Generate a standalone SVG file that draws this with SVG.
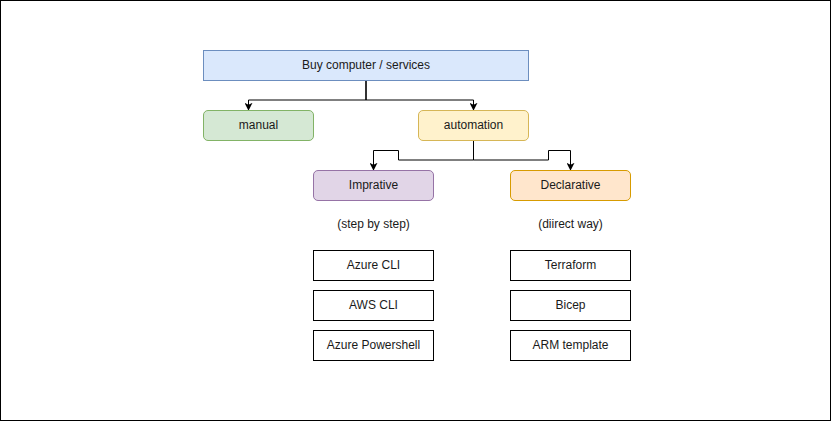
<svg xmlns="http://www.w3.org/2000/svg" width="831" height="421" viewBox="0 0 831 421">
<style>
text{font-family:"Liberation Sans",Arial,sans-serif;font-size:12px;fill:#1a1a1a;text-anchor:middle;dominant-baseline:central}
.c{fill:none;stroke:#000;stroke-width:1}
.w{fill:#fff;stroke:#000;stroke-width:1}
</style>
<defs>
<marker id="ah" viewBox="0 0 10 10" refX="9" refY="5" markerWidth="8" markerHeight="8" markerUnits="userSpaceOnUse" orient="auto">
<path d="M0,0 L10,5 L0,10 L2.5,5 Z" fill="#000"/>
</marker>
</defs>
<rect x="0.5" y="0.5" width="830" height="420" fill="#fff" stroke="#000"/>
<g id="connectors">
<path d="M366,80 V100" fill="none" stroke="#333" stroke-width="2"/>
<path class="c" d="M366,100 H248.5 V110" marker-end="url(#ah)"/>
<path class="c" d="M366,100 H473.5 V110" marker-end="url(#ah)"/>
<path class="c" d="M473.5,140 V160 H398.5 V150.5 H373.5 V170" marker-end="url(#ah)"/>
<path class="c" d="M473.5,160 H548.5 V150.5 H570.5 V170" marker-end="url(#ah)"/>
</g>
<g id="buy"><rect x="203.5" y="50.5" width="325" height="30" fill="#dae8fc" stroke="#6c8ebf"/><text x="366" y="64.5">Buy computer / services</text></g>
<g id="manual"><rect x="203.5" y="110.5" width="110" height="30" rx="4.5" fill="#d5e8d4" stroke="#82b366"/><text x="258.5" y="124.5">manual</text></g>
<g id="automation"><rect x="418.5" y="110.5" width="110" height="30" rx="4.5" fill="#fff2cc" stroke="#d6b656"/><text x="473.5" y="124.5">automation</text></g>
<g id="imprative"><rect x="313.5" y="170.5" width="120" height="30" rx="4.5" fill="#e1d5e7" stroke="#9673a6"/><text x="373.5" y="184.5">Imprative</text></g>
<g id="declarative"><rect x="510.5" y="170.5" width="120" height="30" rx="4.5" fill="#ffe6cc" stroke="#d79b00"/><text x="570.5" y="184.5">Declarative</text></g>
<g id="stepbystep"><text x="373.5" y="224">(step by step)</text></g>
<g id="directway"><text x="570.5" y="224">(diirect way)</text></g>
<g id="azurecli"><rect class="w" x="313.5" y="250.5" width="120" height="30"/><text x="373.5" y="264.5">Azure CLI</text></g>
<g id="awscli"><rect class="w" x="313.5" y="290.5" width="120" height="30"/><text x="373.5" y="304.5">AWS CLI</text></g>
<g id="azureps"><rect class="w" x="313.5" y="330.5" width="120" height="30"/><text x="373.5" y="344.5">Azure Powershell</text></g>
<g id="terraform"><rect class="w" x="510.5" y="250.5" width="120" height="30"/><text x="570.5" y="264.5">Terraform</text></g>
<g id="bicep"><rect class="w" x="510.5" y="290.5" width="120" height="30"/><text x="570.5" y="304.5">Bicep</text></g>
<g id="arm"><rect class="w" x="510.5" y="330.5" width="120" height="30"/><text x="570.5" y="344.5">ARM template</text></g>
</svg>
